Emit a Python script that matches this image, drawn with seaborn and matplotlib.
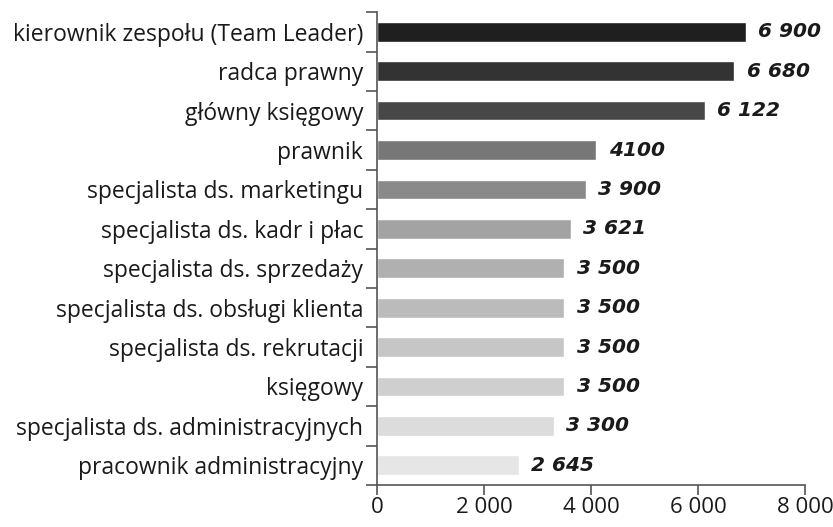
import matplotlib
matplotlib.use("Agg")
import matplotlib.pyplot as plt
import seaborn as sns
import pandas as pd
import numpy as np

jobs = [
    "kierownik zespołu (Team Leader)",
    "radca prawny",
    "główny księgowy",
    "prawnik",
    "specjalista ds. marketingu",
    "specjalista ds. kadr i płac",
    "specjalista ds. sprzedaży",
    "specjalista ds. obsługi klienta",
    "specjalista ds. rekrutacji",
    "księgowy",
    "specjalista ds. administracyjnych",
    "pracownik administracyjny",
]
salaries = [6900, 6680, 6122, 4100, 3900, 3621, 3500, 3500, 3500, 3500, 3300, 2645]
value_labels = ["6 900", "6 680", "6 122", "4100", "3 900", "3 621",
                "3 500", "3 500", "3 500", "3 500", "3 300", "2 645"]
bar_colors = ["#1f1f1f", "#333333", "#474747", "#777777", "#8a8a8a", "#a3a3a3",
              "#b0b0b0", "#bbbbbb", "#c6c6c6", "#cfcfcf", "#dcdcdc", "#e6e6e6"]
x_ticks = [0, 2000, 4000, 6000, 8000]
x_tick_labels = ["0", "2 000", "4 000", "6 000", "8 000"]

df = pd.DataFrame({"job": jobs, "salary": salaries})

sns.set_style("white")
plt.rcParams["font.family"] = ["Open Sans", "DejaVu Sans"]

fig = plt.figure(figsize=(8.33, 5.27), dpi=100)
ax = fig.add_axes([0.4526, 0.0797, 0.5138, 0.8973])

sns.barplot(data=df, x="salary", y="job", hue="job", palette=bar_colors,
            legend=False, width=0.5, ax=ax, saturation=1)

for i, (v, lab) in enumerate(zip(salaries, value_labels)):
    ax.text(v + 230, i, lab, va="center", ha="left", fontsize=14.5,
            fontweight="bold", fontstyle="italic", color="#1a1a1a",
            family=["DejaVu Sans"])

ax.set_xlim(0, 8000)
ax.set_ylim(11.5, -0.5)
ax.set_xticks(x_ticks)
ax.set_xticklabels(x_tick_labels, fontsize=16, color="#1a1a1a")
ax.set_yticks(range(len(jobs)))
ax.set_yticklabels(jobs, fontsize=16.5, color="#1a1a1a")
ax.set_yticks(np.arange(-0.5, len(jobs), 1), minor=True)
ax.tick_params(axis="y", which="major", length=0, pad=10)
ax.tick_params(axis="y", which="minor", length=8, width=1.2, color="#555555", left=True)
ax.tick_params(axis="x", which="major", length=7, width=1.2, color="#555555", bottom=True, pad=2)
ax.set_xlabel("")
ax.set_ylabel("")

for s in ["top", "right"]:
    ax.spines[s].set_visible(False)
for s in ["left", "bottom"]:
    ax.spines[s].set_color("#555555")
    ax.spines[s].set_linewidth(1.2)

fig.savefig("out.png", dpi=100)
